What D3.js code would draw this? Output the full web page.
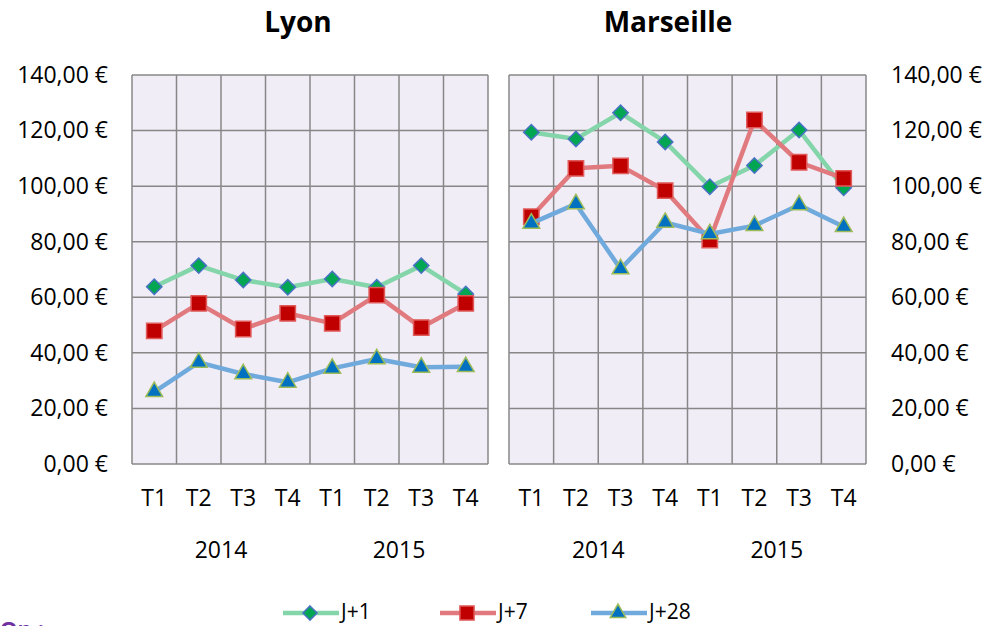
<!DOCTYPE html>
<html>
<head>
<meta charset="utf-8">
<script src="https://cdn.jsdelivr.net/npm/d3@7"></script>
<style>
  body { margin: 0; background: #fff; }
  svg { display: block; font-family: "Open Sans", sans-serif; }
</style>
</head>
<body>
<svg id="chart" width="986" height="626"></svg>
<script>
// data
const quarters = ['T1', 'T2', 'T3', 'T4'];
const years = ['2014', '2015'];
const seriesNames = ['J+1', 'J+7', 'J+28'];
const yTicks = [0, 20, 40, 60, 80, 100, 120, 140];

const lyonJ1 = [63.8, 71.4, 66.2, 63.6, 66.6, 63.6, 71.4, 61.2];
const lyonJ7 = [47.9, 57.8, 48.6, 54.2, 50.6, 60.8, 49.1, 57.8];
const lyonJ28 = [26.0, 36.6, 32.4, 29.4, 34.4, 37.8, 34.8, 35.0];

const marseilleJ1 = [119.4, 117.0, 126.4, 115.9, 99.8, 107.4, 120.2, 99.4];
const marseilleJ7 = [89.0, 106.4, 107.3, 98.4, 80.6, 123.8, 108.6, 102.8];
const marseilleJ28 = [86.6, 93.6, 70.2, 86.9, 82.8, 85.8, 93.2, 85.4];

const cities = [
  { name: 'Lyon', values: [lyonJ1, lyonJ7, lyonJ28], x0: 132, x1: 488, axis: 'left', titleX: 298 },
  { name: 'Marseille', values: [marseilleJ1, marseilleJ7, marseilleJ28], x0: 509, x1: 866, axis: 'right', titleX: 668 }
];

const styles = [
  { line: '#84d6aa', fill: '#00a651', stroke: '#4a72c4', symbol: d3.symbolDiamond2, size: 150 },
  { line: '#e07a7e', fill: '#c00000', stroke: '#e05a5a', symbol: d3.symbolSquare2, size: 300 },
  { line: '#70aadc', fill: '#0070c0', stroke: '#9bbb59', symbol: d3.symbolTriangle2, size: 200 }
];

const svg = d3.select('#chart');
const categories = [];
years.forEach(yr => quarters.forEach(q => categories.push(yr + '-' + q)));

const y = d3.scaleLinear().domain([0, 140]).range([464, 75]);
const fmt = v => d3.format('.2f')(v).replace('.', ',') + ' €';

cities.forEach(city => {
  const x = d3.scaleBand().domain(categories).range([city.x0, city.x1]).padding(0);
  const g = svg.append('g');

  // plot background
  g.append('rect')
    .attr('x', city.x0).attr('y', y(140))
    .attr('width', city.x1 - city.x0).attr('height', y(0) - y(140))
    .attr('fill', '#f1edf7');

  // grid
  g.selectAll('.hgrid').data(yTicks).join('line')
    .attr('x1', city.x0).attr('x2', city.x1)
    .attr('y1', d => y(d)).attr('y2', d => y(d))
    .attr('stroke', '#878787').attr('stroke-width', 1.5);
  const bounds = categories.map(c => x(c)).concat([city.x1]);
  g.selectAll('.vgrid').data(bounds).join('line')
    .attr('x1', d => d).attr('x2', d => d)
    .attr('y1', y(0)).attr('y2', y(140))
    .attr('stroke', '#878787').attr('stroke-width', 1.5);

  // title
  svg.append('text')
    .attr('x', city.titleX).attr('y', 32)
    .attr('text-anchor', 'middle')
    .style('font-size', '28px').style('font-weight', 'bold')
    .text(city.name);

  // y axis labels
  const yAxis = city.axis === 'left'
    ? d3.axisLeft(y).tickValues(yTicks).tickFormat(fmt).tickSize(0).tickPadding(24)
    : d3.axisRight(y).tickValues(yTicks).tickFormat(fmt).tickSize(0).tickPadding(25);
  const ya = svg.append('g')
    .attr('transform', 'translate(' + (city.axis === 'left' ? city.x0 : city.x1) + ',0)')
    .call(yAxis);
  ya.select('.domain').remove();
  ya.selectAll('text').style('font-size', '23px').style('font-family', '"Open Sans", sans-serif').attr('fill', '#000');

  // x axis labels
  const xa = svg.append('g')
    .attr('transform', 'translate(0,' + y(0) + ')')
    .call(d3.axisBottom(x).tickSize(0).tickPadding(26).tickFormat(d => d.split('-')[1]));
  xa.select('.domain').remove();
  xa.selectAll('text').style('font-size', '23px').style('font-family', '"Open Sans", sans-serif').attr('fill', '#000');

  years.forEach(yr => {
    const first = x(yr + '-T1');
    const last = x(yr + '-T4') + x.bandwidth();
    svg.append('text')
      .attr('x', (first + last) / 2).attr('y', 558)
      .attr('text-anchor', 'middle')
      .style('font-size', '23px')
      .text(yr);
  });

  // series
  city.values.forEach((vals, i) => {
    const st = styles[i];
    const pts = vals.map((v, j) => [x(categories[j]) + x.bandwidth() / 2, y(v)]);
    g.append('path')
      .datum(pts)
      .attr('fill', 'none')
      .attr('stroke', st.line)
      .attr('stroke-width', 4.5)
      .attr('stroke-linejoin', 'round')
      .attr('d', d3.line());
    g.selectAll('.m' + i).data(pts).join('path')
      .attr('transform', d => 'translate(' + d[0] + ',' + d[1] + ')')
      .attr('d', d3.symbol().type(st.symbol).size(st.size))
      .attr('fill', st.fill)
      .attr('stroke', st.stroke)
      .attr('stroke-width', 1.5);
  });
});

// legend
const legendX = [283, 440, 591];
const legend = svg.append('g');
seriesNames.forEach((name, i) => {
  const st = styles[i];
  const lx = legendX[i];
  legend.append('line')
    .attr('x1', lx).attr('x2', lx + 56)
    .attr('y1', 613).attr('y2', 613)
    .attr('stroke', st.line).attr('stroke-width', 4.5);
  legend.append('path')
    .attr('transform', 'translate(' + (lx + 27) + ',613)')
    .attr('d', d3.symbol().type(st.symbol).size(st.size * 0.85))
    .attr('fill', st.fill).attr('stroke', st.stroke).attr('stroke-width', 1.5);
  legend.append('text')
    .attr('x', lx + 58).attr('y', 619)
    .style('font-size', '21px')
    .text(name);
});

// note at the bottom, cut off by the frame edge as in the source
svg.append('text')
  .attr('x', 0).attr('y', 637)
  .style('font-size', '22px').style('font-weight', 'bold')
  .attr('fill', '#7030a0')
  .text('On :');
</script>
</body>
</html>
